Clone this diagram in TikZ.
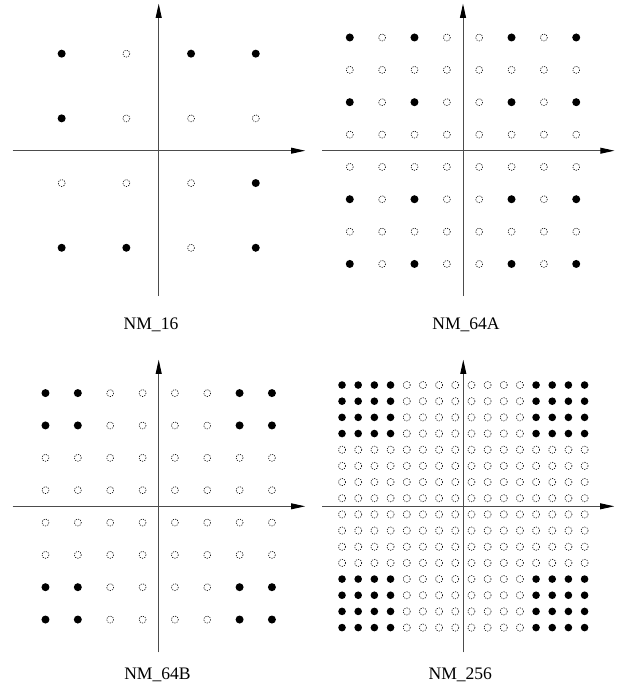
\documentclass[tikz,border=0pt]{standalone}
\usepackage{fontspec}
\setmainfont{Liberation Serif}
\usetikzlibrary{arrows.meta}

\begin{document}
\begin{tikzpicture}[
    x=0.03cm, y=-0.03cm,
    axis/.style={draw=black!70, line width=0.8pt, -{Triangle[length=12pt, width=5pt, color=black]}},
    full/.style={fill=black},
    hollow/.style={draw=black, line width=0.5pt, dash pattern=on 1pt off 1pt},
    lbl/.style={anchor=base, font=\fontsize{15}{18}\selectfont, inner sep=0pt},
]
    \useasboundingbox (0,0) rectangle (623,686);

    % NM_16
    \begin{scope}[shift={(158.7,150.7)}]
        \coordinate (w16) at (-146,0);
        \coordinate (e16) at (146.5,0);
        \coordinate (s16) at (0,145.5);
        \coordinate (n16) at (0,-147);
        \draw[axis] (w16) -- (e16);
        \draw[axis] (s16) -- (n16);
        \foreach \i/\j in {1/1,3/1,4/1,1/2,4/3,1/4,2/4,4/4}
            \fill[full] ({(2*\i-5)*32.35},{(2*\j-5)*32.35}) circle[radius=4];
        \foreach \i/\j in {2/1,2/2,3/2,4/2,1/3,2/3,3/3,3/4}
            \draw[hollow] ({(2*\i-5)*32.35},{(2*\j-5)*32.35}) circle[radius=3.5];
    \end{scope}

    % NM_64A
    \begin{scope}[shift={(463,150.7)}]
        \coordinate (w64a) at (-141,0);
        \coordinate (e64a) at (151.5,0);
        \coordinate (s64a) at (0,145.5);
        \coordinate (n64a) at (0,-147);
        \draw[axis] (w64a) -- (e64a);
        \draw[axis] (s64a) -- (n64a);
        \foreach \i/\cfl in {1/1,2/0,3/1,4/0,5/0,6/1,7/0,8/1}
            \foreach \j/\rfl in {1/1,2/0,3/1,4/0,5/0,6/1,7/0,8/1}{
                \ifnum\cfl\rfl=11
                    \fill[full] ({(\i-4.5)*32.35},{(\j-4.5)*32.35}) circle[radius=4];
                \else
                    \draw[hollow] ({(\i-4.5)*32.35},{(\j-4.5)*32.35}) circle[radius=3.5];
                \fi
            }
    \end{scope}

    % NM_64B
    \begin{scope}[shift={(158.7,506.3)}]
        \coordinate (w64b) at (-146,0);
        \coordinate (e64b) at (146.5,0);
        \coordinate (s64b) at (0,146);
        \coordinate (n64b) at (0,-146.6);
        \draw[axis] (w64b) -- (e64b);
        \draw[axis] (s64b) -- (n64b);
        \foreach \i/\cfl in {1/1,2/1,3/0,4/0,5/0,6/0,7/1,8/1}
            \foreach \j/\rfl in {1/1,2/1,3/0,4/0,5/0,6/0,7/1,8/1}{
                \ifnum\cfl\rfl=11
                    \fill[full] ({(\i-4.5)*32.35},{(\j-4.5)*32.35}) circle[radius=4];
                \else
                    \draw[hollow] ({(\i-4.5)*32.35},{(\j-4.5)*32.35}) circle[radius=3.5];
                \fi
            }
    \end{scope}

    % NM_256
    \begin{scope}[shift={(463.3,506.3)}]
        \coordinate (w256) at (-141.3,0);
        \coordinate (e256) at (151,0);
        \coordinate (s256) at (0,146);
        \coordinate (n256) at (0,-146.6);
        \draw[axis] (w256) -- (e256);
        \draw[axis] (s256) -- (n256);
        \foreach \i/\cfl in {1/1,2/1,3/1,4/1,5/0,6/0,7/0,8/0,9/0,10/0,11/0,12/0,13/1,14/1,15/1,16/1}
            \foreach \j/\rfl in {1/1,2/1,3/1,4/1,5/0,6/0,7/0,8/0,9/0,10/0,11/0,12/0,13/1,14/1,15/1,16/1}{
                \ifnum\cfl\rfl=11
                    \fill[full] ({(\i-8.5)*16.17},{(\j-8.5)*16.17}) circle[radius=3.8];
                \else
                    \draw[hollow] ({(\i-8.5)*16.17},{(\j-8.5)*16.17}) circle[radius=3.6];
                \fi
            }
    \end{scope}

    \node[lbl] (lab16) at (151,329) {NM\_16};
    \node[lbl] (lab64a) at (466,329) {NM\_64A};
    \node[lbl] (lab64b) at (157.5,679) {NM\_64B};
    \node[lbl] (lab256) at (460.3,679) {NM\_256};
\end{tikzpicture}
\end{document}
